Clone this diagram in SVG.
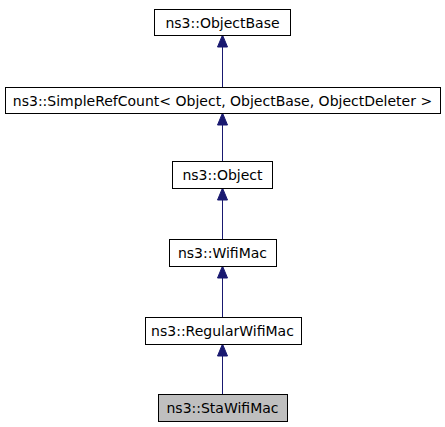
<svg xmlns="http://www.w3.org/2000/svg" width="445" height="427" viewBox="0 0 445 427">
<style>
.box{fill:#fff;stroke:#000;stroke-width:1}
.cur{fill:#bfbfbf;stroke:#000;stroke-width:1}
text{font-family:"DejaVu Sans",sans-serif;font-size:14px;fill:#000;text-anchor:middle}
.edge{stroke:#191970;stroke-width:1;fill:none}
.head{fill:#191970;stroke:#191970}
</style>
<rect width="445" height="427" fill="#fff"/>
<g id="connectors">
<line class="edge" x1="222.5" y1="87" x2="222.5" y2="47"/><polygon class="head" points="217.5,47 222.5,35 227.5,47"/>
<line class="edge" x1="222.5" y1="161" x2="222.5" y2="125"/><polygon class="head" points="217.5,125 222.5,113 227.5,125"/>
<line class="edge" x1="222.5" y1="239" x2="222.5" y2="200"/><polygon class="head" points="217.5,200 222.5,188 227.5,200"/>
<line class="edge" x1="222.5" y1="317" x2="222.5" y2="278"/><polygon class="head" points="217.5,278 222.5,266 227.5,278"/>
<line class="edge" x1="222.5" y1="394" x2="222.5" y2="356"/><polygon class="head" points="217.5,356 222.5,344 227.5,356"/>
</g>
<g id="ObjectBase"><rect class="box" x="154.5" y="9.5" width="136" height="26"/><text x="222.5" y="27.5">ns3::ObjectBase</text></g>
<g id="SimpleRefCount"><rect class="box" x="5.5" y="87.5" width="435" height="26"/><text x="222.5" y="105.5">ns3::SimpleRefCount&lt; Object, ObjectBase, ObjectDeleter &gt;</text></g>
<g id="Object"><rect class="box" x="172.5" y="161.5" width="100" height="27"/><text x="222.5" y="179.5">ns3::Object</text></g>
<g id="WifiMac"><rect class="box" x="169.5" y="239.5" width="107" height="27"/><text x="222.5" y="257.5">ns3::WifiMac</text></g>
<g id="RegularWifiMac"><rect class="box" x="145.5" y="317.5" width="156" height="27"/><text x="222.5" y="335.5">ns3::RegularWifiMac</text></g>
<g id="StaWifiMac"><rect class="cur" x="158.5" y="394.5" width="129" height="27"/><text x="222.5" y="412.5">ns3::StaWifiMac</text></g>
</svg>
